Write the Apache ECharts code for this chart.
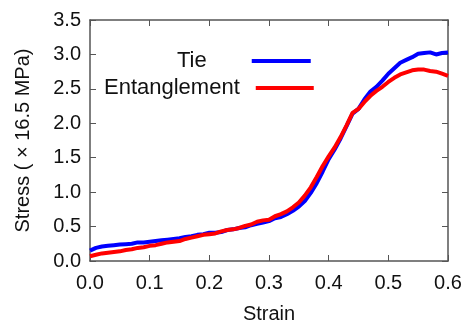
<!DOCTYPE html>
<html>
<head>
<meta charset="utf-8">
<script src="https://cdn.jsdelivr.net/npm/echarts@6/dist/echarts.min.js"></script>
<style>html,body{margin:0;padding:0;background:#fff}#c{width:467px;height:329px}</style>
</head>
<body>
<div id="c"></div>
<script>
var strain = [0.00,0.01,0.02,0.03,0.04,0.05,0.06,0.07,0.08,0.09,0.10,0.11,0.12,0.13,0.14,0.15,0.16,0.17,0.18,0.19,0.20,0.21,0.22,0.23,0.24,0.25,0.26,0.27,0.28,0.29,0.30,0.31,0.32,0.33,0.34,0.35,0.36,0.37,0.38,0.39,0.40,0.41,0.42,0.43,0.44,0.45,0.46,0.47,0.48,0.49,0.50,0.51,0.52,0.53,0.54,0.55,0.56,0.57,0.58,0.59,0.60];
var tie = [0.15,0.19,0.21,0.22,0.23,0.24,0.245,0.25,0.27,0.27,0.28,0.29,0.30,0.31,0.32,0.33,0.35,0.36,0.38,0.39,0.41,0.41,0.42,0.45,0.46,0.48,0.49,0.52,0.54,0.56,0.58,0.62,0.64,0.68,0.73,0.79,0.87,0.99,1.13,1.30,1.48,1.62,1.78,1.96,2.14,2.21,2.35,2.46,2.53,2.62,2.72,2.80,2.88,2.92,2.96,3.01,3.02,3.03,3.00,3.02,3.03];
var entanglement = [0.07,0.09,0.11,0.12,0.13,0.14,0.16,0.17,0.19,0.20,0.22,0.23,0.25,0.27,0.28,0.29,0.32,0.34,0.36,0.38,0.39,0.40,0.43,0.45,0.46,0.48,0.51,0.53,0.57,0.59,0.60,0.65,0.68,0.72,0.78,0.85,0.95,1.07,1.22,1.38,1.52,1.65,1.80,1.97,2.15,2.21,2.31,2.40,2.47,2.53,2.60,2.66,2.71,2.74,2.77,2.78,2.78,2.76,2.75,2.72,2.69];
var seriesNames = ['Tie', 'Entanglement'];
var xTitle = 'Strain';
var yTitle = 'Stress ( \u00d7 16.5 MPa)';

function pairs(xs, ys){ return xs.map(function(x,i){ return [x, ys[i]]; }); }

var chart = echarts.init(document.getElementById('c'), null, {renderer:'canvas'});
var font = 'Liberation Sans, Arial, sans-serif';
var axisColor = '#555';
function baseAxis(extra){
  var a = {
    axisLine:{show:true, onZero:false, lineStyle:{color:axisColor, width:1.5}},
    axisTick:{show:true, inside:true, length:6, lineStyle:{color:axisColor}},
    splitLine:{show:false},
    axisLabel:{color:'#111', fontSize:20, fontFamily:font}
  };
  for (var k in extra) a[k] = extra[k];
  return a;
}
chart.setOption({
  animation:false,
  backgroundColor:'#fff',
  grid:{left:90, right:19, top:20, bottom:62, containLabel:false},
  legend:[
    {data:[seriesNames[0]], left:177, top:50, padding:0, align:'right', icon:'rect', itemWidth:59, itemHeight:4,
     textStyle:{fontSize:22, fontFamily:font, color:'#111', padding:[0,40,0,0]}},
    {data:[seriesNames[1]], left:104, top:77, padding:0, align:'right', icon:'rect', itemWidth:58, itemHeight:4,
     textStyle:{fontSize:22, fontFamily:font, color:'#111', padding:[0,11,0,0]}}
  ],
  xAxis:[
    baseAxis({type:'value', min:0, max:0.6, interval:0.1, position:'bottom',
      name:xTitle, nameLocation:'middle', nameGap:43,
      nameTextStyle:{fontSize:20, fontFamily:font, color:'#111'},
      axisLabel:{color:'#111', fontSize:20, fontFamily:font, margin:12, formatter:function(v){return v.toFixed(1);}}}),
    baseAxis({type:'value', min:0, max:0.6, interval:0.1, position:'top', axisLabel:{show:false}})
  ],
  yAxis:[
    baseAxis({type:'value', min:0, max:3.5, interval:0.5, position:'left',
      name:yTitle, nameLocation:'middle', nameGap:57,
      nameTextStyle:{fontSize:20, fontFamily:font, color:'#111'},
      axisLabel:{color:'#111', fontSize:20, fontFamily:font, margin:9, formatter:function(v){return v.toFixed(1);}}}),
    baseAxis({type:'value', min:0, max:3.5, interval:0.5, position:'right', axisLabel:{show:false}})
  ],
  series:[
    {name:seriesNames[0], type:'line', data:pairs(strain, tie), showSymbol:false, symbol:'none',
     lineStyle:{color:'#0000ff', width:4}, itemStyle:{color:'#0000ff'}},
    {name:seriesNames[1], type:'line', data:pairs(strain, entanglement), showSymbol:false, symbol:'none',
     lineStyle:{color:'#ff0000', width:4}, itemStyle:{color:'#ff0000'}}
  ]
});
</script>
</body>
</html>
